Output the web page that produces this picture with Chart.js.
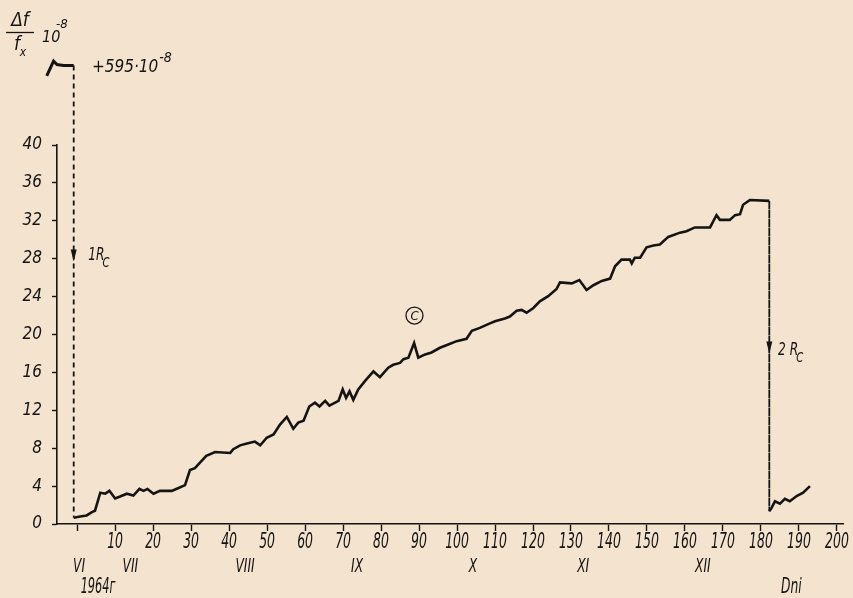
<!DOCTYPE html>
<html>
<head>
<meta charset="utf-8">
<script src="https://cdn.jsdelivr.net/npm/chart.js@4.4.1/dist/chart.umd.min.js"></script>
<style>
  html, body { margin: 0; padding: 0; background: #f3e3cf; }
  #wrap { width: 853px; height: 598px; position: relative; }
</style>
</head>
<body>
<div id="wrap"><canvas id="chart"></canvas></div>
<script>
// days counted from the start in June 1964, values in 10^-8
const days = [
  -0.9, 0.8, 2.5, 3.9, 4.7, 6.1, 7.4, 8.5, 10, 11.3, 13.1, 14.8, 16.4, 17.5, 18.5, 20.1,
  21.8, 24.9, 26.7, 28.4, 29.7, 31, 32.4, 34, 36.3, 40.3, 41.1, 42.9, 44.7, 46.8, 48.2,
  49.9, 51.7, 53.4, 55.2, 56.9, 58.2, 59.6, 61.1, 62.6, 63.8, 65.3, 66.4, 68.8, 69.9,
  70.8, 71.7, 72.7, 74, 75.8, 78, 79.7, 81.9, 83.2, 85, 85.9, 87.2, 88.7, 89.8, 91.6,
  93.3, 95.5, 97.7, 99.9, 102.5, 103.9, 106, 108.2, 110, 112.6, 113.9, 115.7, 117,
  118.3, 120.1, 121.8, 124, 126.2, 127.1, 130.2, 132.2, 134.1, 135.9, 138.1, 140.3,
  141.6, 143.3, 145.5, 146, 146.8, 148.2, 149.9, 151.7, 153.4, 155.6, 158.7, 160.4,
  162.6, 166.6, 168.3, 169.2, 171.8, 173.2, 174.5, 175.3, 177.1, 182.2,
  182.2, 182.8, 183.7, 185, 186.3, 187.6, 189.4, 191.1, 192.9
]
const values = [
  0.65, 0.8, 0.9, 1.25, 1.4, 3.3, 3.2, 3.5, 2.7, 2.9, 3.2, 3.0, 3.7, 3.5, 3.7, 3.2,
  3.5, 3.5, 3.8, 4.1, 5.7, 5.9, 6.5, 7.2, 7.6, 7.5, 7.9, 8.3, 8.5, 8.7, 8.3,
  9.1, 9.45, 10.5, 11.3, 10.05, 10.7, 10.9, 12.4, 12.8, 12.4, 13.0, 12.5, 13.0, 14.2,
  13.3, 14.0, 13.1, 14.2, 15.1, 16.1, 15.5, 16.5, 16.8, 17.0, 17.4, 17.55, 19.1, 17.55, 17.9,
  18.1, 18.6, 18.95, 19.3, 19.55, 20.4, 20.7, 21.1, 21.4, 21.7, 21.9, 22.5, 22.6,
  22.3, 22.8, 23.5, 24.05, 24.8, 25.5, 25.4, 25.75, 24.7, 25.2, 25.65, 25.9,
  27.2, 27.9, 27.9, 27.5, 28.1, 28.1, 29.2, 29.4, 29.5, 30.3, 30.75, 30.9,
  31.3, 31.3, 32.6, 32.1, 32.1, 32.6, 32.7, 33.7, 34.2, 34.1,
  1.35, 1.7, 2.4, 2.15, 2.65, 2.4, 2.95, 3.3, 4.0
]

// short piece before the first switch, at +595·10^-8
const insetDays = [-8.0, -6.2, -5.3, -3.6, -0.9]
const insetValues = [593.9, 595.45, 595.1, 595, 595]

const xTicks = [0, 10, 20, 30, 40, 50, 60, 70, 80, 90, 100, 110, 120, 130, 140, 150, 160, 170, 180, 190, 200]
const yTicks = [0, 4, 8, 12, 16, 20, 24, 28, 32, 36, 40]

const months = ["VI", "VII", "VIII", "IX", "X", "XI", "XII"]
const monthDays = [0.5, 14, 44.2, 73.7, 104.2, 133.2, 164.7]

const ink = "#161412"
const fontFamily = "'DejaVu Sans Condensed', 'DejaVu Sans', sans-serif"

function italic(size) {
  return "italic " + size + "px " + fontFamily
}

// the lettering on the drawing is tall and narrow
function narrowText(ctx, text, px, py, size, sx) {
  ctx.save()
  ctx.translate(px, py)
  ctx.scale(sx, 1)
  ctx.font = italic(size)
  ctx.fillText(text, 0, 0)
  ctx.restore()
}

const annotations = {
  id: "annotations",
  afterDatasetsDraw(chart) {
    const { ctx, chartArea } = chart
    const x = chart.scales.x
    const y = chart.scales.y
    const yTop = chart.scales.yTop
    ctx.save()
    ctx.strokeStyle = ink
    ctx.fillStyle = ink

    // first switch, dashed drop from the +595 level
    const x1 = x.getPixelForValue(insetDays[insetDays.length - 1])
    ctx.lineWidth = 1.8
    ctx.setLineDash([5, 4])
    ctx.beginPath()
    ctx.moveTo(x1, yTop.getPixelForValue(insetValues[insetValues.length - 1]))
    ctx.lineTo(x1, y.getPixelForValue(values[0]))
    ctx.stroke()
    ctx.setLineDash([])

    const arrow = (px, py) => {
      ctx.beginPath()
      ctx.moveTo(px - 3, py - 12)
      ctx.lineTo(px + 3, py - 12)
      ctx.lineTo(px, py)
      ctx.closePath()
      ctx.fill()
    }
    arrow(x1, y.getPixelForValue(27.7))
    arrow(x.getPixelForValue(182.2), y.getPixelForValue(18.0))

    ctx.textAlign = "left"
    ctx.textBaseline = "middle"
    const sub = (main, s, px, py) => {
      narrowText(ctx, main, px, py, 17, 0.8)
      ctx.font = italic(17)
      const w = ctx.measureText(main).width * 0.8
      narrowText(ctx, s, px + w - 2, py + 8, 14, 0.8)
    }
    sub("1R", "C", x.getPixelForValue(2.9), y.getPixelForValue(28.3))
    sub("2 R", "C", x.getPixelForValue(184.5), y.getPixelForValue(18.3))

    // circled curve label
    const cx = x.getPixelForValue(88.8)
    const cy = y.getPixelForValue(22.0)
    ctx.lineWidth = 1.3
    ctx.beginPath()
    ctx.arc(cx, cy, 8.5, 0, Math.PI * 2)
    ctx.stroke()
    ctx.font = italic(13)
    ctx.textAlign = "center"
    ctx.fillText("C", cx, cy + 1)

    // day numbers under the ticks
    x.ticks.forEach((t) => {
      if (t.value === 0) return
      narrowText(ctx, String(t.value), x.getPixelForValue(t.value), chartArea.bottom + 18, 22, 0.63)
    })

    // months and the year
    months.forEach((m, i) => {
      narrowText(ctx, m, x.getPixelForValue(monthDays[i]), chartArea.bottom + 43, 20, 0.68)
    })
    narrowText(ctx, "1964г", x.getPixelForValue(5.5), chartArea.bottom + 64, 21, 0.6)
    narrowText(ctx, "Dni", x.getPixelForValue(188), chartArea.bottom + 64, 21, 0.65)

    // level of the short piece
    ctx.textAlign = "left"
    ctx.font = italic(17)
    const ly = yTop.getPixelForValue(595) + 2
    const lx = x.getPixelForValue(3.9)
    ctx.fillText("+595·10", lx, ly)
    const lw = ctx.measureText("+595·10").width
    ctx.font = italic(14)
    ctx.fillText("-8", lx + lw + 1, ly - 9)

    // axis title: Δf / f_x 10^-8
    ctx.font = italic(19)
    ctx.textAlign = "center"
    ctx.fillText("Δf", 20, 21)
    ctx.lineWidth = 1.3
    ctx.beginPath()
    ctx.moveTo(6, 32.5)
    ctx.lineTo(34, 32.5)
    ctx.stroke()
    ctx.fillText("f", 17, 45)
    ctx.font = italic(12)
    ctx.fillText("x", 23, 53)
    ctx.font = italic(16)
    ctx.textAlign = "left"
    ctx.fillText("10", 42, 38)
    ctx.font = italic(13)
    ctx.fillText("-8", 56, 25)
    ctx.restore()
  }
}

new Chart(document.getElementById("chart"), {
  type: "line",
  data: {
    datasets: [
      {
        data: days.map((d, i) => ({ x: d, y: values[i] })),
        borderColor: ink,
        borderWidth: 2.6,
        pointRadius: 0,
        tension: 0,
        fill: false,
        segment: {
          borderDash: (c) => (c.p0.parsed.x === c.p1.parsed.x ? [5, 4] : undefined),
          borderWidth: (c) => (c.p0.parsed.x === c.p1.parsed.x ? 1.8 : undefined)
        }
      },
      {
        // listed right to left so every point is kept, also those left of the axis
        data: insetDays.map((d, i) => ({ x: d, y: insetValues[i] })).reverse(),
        yAxisID: "yTop",
        borderColor: ink,
        borderWidth: 3,
        pointRadius: 0,
        tension: 0,
        fill: false,
        clip: false
      }
    ]
  },
  options: {
    responsive: true,
    maintainAspectRatio: false,
    animation: false,
    layout: { padding: { left: 0, top: 145, right: 10, bottom: 0 } },
    plugins: {
      legend: { display: false },
      tooltip: { enabled: false }
    },
    scales: {
      x: {
        type: "linear",
        min: -5.3,
        max: 201.6,
        afterBuildTicks: (s) => { s.ticks = xTicks.map((v) => ({ value: v })) },
        afterFit: (s) => { s.height = 74 },
        border: { color: ink, width: 1.6 },
        grid: { drawOnChartArea: false, tickLength: 7, tickColor: ink, tickWidth: 1.4 },
        ticks: { display: false }
      },
      y: {
        min: 0,
        max: 40,
        afterBuildTicks: (s) => { s.ticks = yTicks.map((v) => ({ value: v })) },
        afterFit: (s) => { s.width = 57 },
        border: { color: ink, width: 1.6 },
        grid: { drawOnChartArea: false, tickLength: 5, tickColor: ink, tickWidth: 1.4 },
        ticks: {
          color: ink,
          padding: 10,
          autoSkip: false,
          font: { family: fontFamily, style: "italic", size: 17 }
        }
      },
      yTop: {
        display: false,
        min: 546.6,
        max: 586.6
      }
    }
  },
  plugins: [annotations]
})
</script>
</body>
</html>
